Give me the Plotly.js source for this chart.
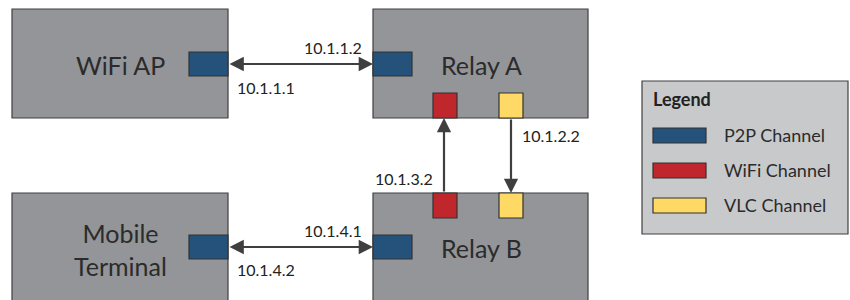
<!DOCTYPE html>
<html><head><meta charset="utf-8">
<script src="https://cdn.plot.ly/plotly-3.0.1.min.js"></script>
<style>html,body{margin:0;padding:0;background:#fff}#chart{width:850px;height:300px}</style>
</head><body><div id="chart"></div>
<script>
// ---- content ----
const nodeNames = ["WiFi AP", "Relay A", "Mobile<br>Terminal", "Relay B"];
const linkLabels = ["10.1.1.2", "10.1.1.1", "10.1.2.2", "10.1.3.2", "10.1.4.1", "10.1.4.2"];
const legendTitle = "Legend";
const legendNames = ["P2P Channel", "WiFi Channel", "VLC Channel"];

// ---- geometry (pixels, y down) ----
const boxes = [[12,9,228,118],[373,9,588,118],[12,193,228,320],[373,193,588,320]];
const nodeLabelPos = [[120,65],[481,65],[120,249],[481,248]];
const ports = [
  {r:[189,52,228,76], c:0},{r:[373,52,412,76], c:0},
  {r:[433,93,457,118], c:1},{r:[499,93,523,118], c:2},
  {r:[433,193,457,218], c:1},{r:[499,193,523,218], c:2},
  {r:[189,235,228,259], c:0},{r:[373,235,412,259], c:0}
];
const arrows = [
  {from:[228,64], to:[373,64], both:true},
  {from:[444,193], to:[444,118], both:false},
  {from:[511,118], to:[511,193], both:false},
  {from:[228,247], to:[373,247], both:true}
];
const linkLabelPos = [[364,47,'right'],[235,87,'left'],[520,135,'left'],[435,178,'right'],[364,230,'right'],[235,269,'left']];
const channelColors = ["#24527b", "#c0272d", "#ffd966"];

const FONT = "Lato, 'Open Sans', sans-serif";
const shapes = [], annotations = [];
boxes.forEach(b => shapes.push({type:'rect', x0:b[0], y0:b[1], x1:b[2], y1:b[3], fillcolor:'#939598', line:{color:'#404040', width:1.2}, layer:'below'}));
ports.forEach(p => shapes.push({type:'rect', x0:p.r[0], y0:p.r[1], x1:p.r[2], y1:p.r[3], fillcolor:channelColors[p.c], line:{color:'#333333', width:1.2}}));
// legend box
shapes.push({type:'rect', x0:642, y0:81, x1:848, y1:234, fillcolor:'#c8c9cb', line:{color:'#404040', width:1.2}});
legendNames.forEach((n,i) => {
  const y = 128 + i*35;
  shapes.push({type:'rect', x0:653, y0:y, x1:706, y1:y+15, fillcolor:channelColors[i], line:{color:'#333333', width:1.2}});
  annotations.push({x:722, y:y+7, xref:'x', yref:'y', text:n, showarrow:false, xanchor:'left', yanchor:'middle', font:{family:FONT, size:18, color:'#2b2b2b'}});
});
annotations.push({x:651, y:99, xref:'x', yref:'y', text:'<b>'+legendTitle+'</b>', showarrow:false, xanchor:'left', yanchor:'middle', font:{family:FONT, size:18, color:'#222222'}});

nodeNames.forEach((n,i) => annotations.push({x:nodeLabelPos[i][0], y:nodeLabelPos[i][1], xref:'x', yref:'y', text:n, showarrow:false, xanchor:'center', yanchor:'middle', font:{family:FONT, size:25, color:'#2b2b2b'}}));
linkLabels.forEach((t,i) => annotations.push({x:linkLabelPos[i][0], y:linkLabelPos[i][1], xref:'x', yref:'y', text:t, showarrow:false, xanchor:linkLabelPos[i][2], yanchor:'middle', font:{family:FONT, size:16, color:'#222222'}}));
arrows.forEach(a => annotations.push({x:a.to[0], y:a.to[1], ax:a.from[0], ay:a.from[1], xref:'x', yref:'y', axref:'x', ayref:'y', text:'', showarrow:true, arrowhead:2, startarrowhead:2, arrowside:a.both?'end+start':'end', arrowsize:1.3, startarrowsize:1.3, arrowwidth:2.2, arrowcolor:'#3f3f3f', standoff:0, startstandoff:0}));

Plotly.newPlot('chart', [{x:[0], y:[0], mode:'markers', marker:{opacity:0}, hoverinfo:'skip', showlegend:false}], {
  width:850, height:300, margin:{l:0,r:0,t:0,b:0},
  paper_bgcolor:'#ffffff', plot_bgcolor:'#ffffff',
  xaxis:{range:[0,850], visible:false, fixedrange:true},
  yaxis:{range:[300,0], visible:false, fixedrange:true},
  shapes:shapes, annotations:annotations, showlegend:false
}, {staticPlot:true, displayModeBar:false});
</script></body></html>
